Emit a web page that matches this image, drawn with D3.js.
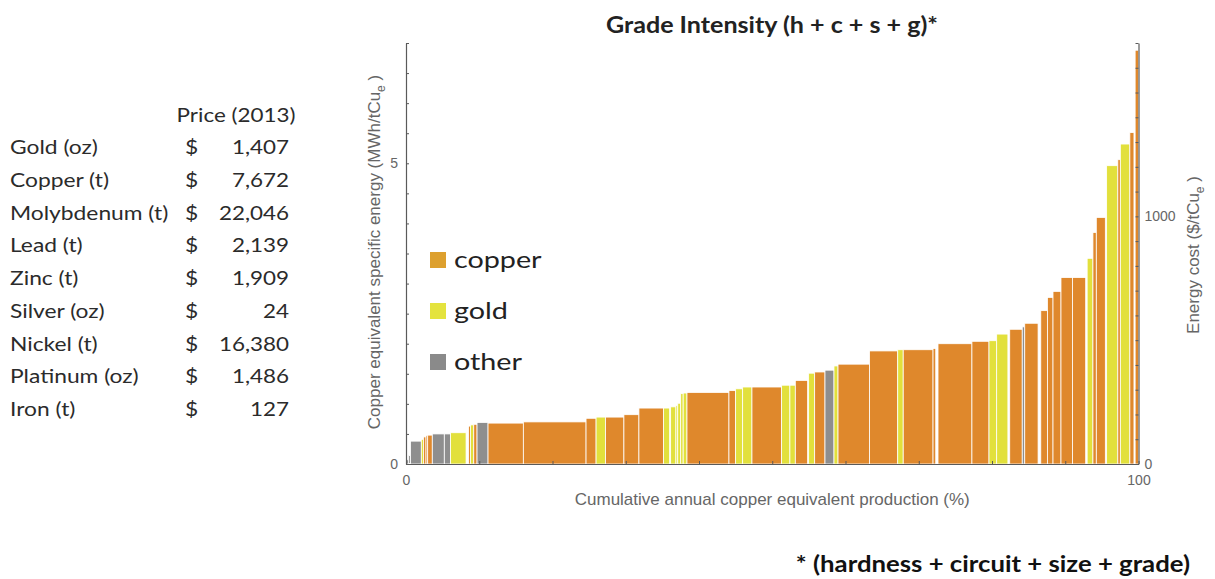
<!DOCTYPE html>
<html>
<head>
<meta charset="utf-8">
<script src="https://cdn.jsdelivr.net/npm/d3@7"></script>
<style>
  html, body { margin: 0; padding: 0; background: #fff; }
  svg { display: block; }
</style>
</head>
<body>
<svg id="chart" width="1215" height="579"></svg>
<script>
// ---------- DATA ----------
const metals = ["Gold (oz)", "Copper (t)", "Molybdenum (t)", "Lead (t)", "Zinc (t)", "Silver (oz)", "Nickel (t)", "Platinum (oz)", "Iron (t)"];
const prices2013 = [1407, 7672, 22046, 2139, 1909, 24, 16380, 1486, 127];

// production share (% of cumulative annual Cu-eq production), in curve order
const shares = [0.37,0.25,1.47,0.30,0.34,0.23,0.63,1.64,0.85,2.12,0.34,
  0.25,0.46,0.45,1.50,4.82,8.56,1.37,1.30,2.50,2.05,3.37,0.82,0.14,
  0.72,0.25,0.40,0.34,0.52,5.73,0.91,0.96,1.27,4.05,1.13,0.74,1.68,0.14,
  0.82,1.41,1.23,0.55,4.30,3.85,0.75,4.07,0.37,0.31,
  4.63,2.33,1.05,1.53,0.25,1.71,0.34,1.82,0.37,
  0.91,0.76,1.09,1.57,1.80,0.20,
  0.79,0.46,1.23,0.18,1.53,0.34,1.30,0.56,0.16,0.48];
// copper-equivalent specific energy (MWh/tCu_e)
const energy = [0.07,0.15,0.38,0.41,0.45,0.47,0.48,0.50,0.50,0.52,0,
  0.63,0.65,0.66,0.69,0.68,0.70,0.76,0.78,0.78,0.82,0.93,0.93,0,
  0.95,0.97,1.01,1.17,1.18,1.19,1.22,1.25,1.28,1.28,1.31,1.31,1.39,0,
  1.51,1.53,1.56,1.63,1.66,1.88,1.90,1.90,1.92,0,
  2.00,2.04,2.05,2.16,0,2.24,2.28,2.34,0,
  2.55,2.77,2.87,3.10,3.10,0,
  3.42,3.85,4.10,0,4.96,5.06,5.32,5.51,0,6.88];
// commodity: c = copper, g = gold, o = other, - = no mine
const commodity = ["o","o","o","g","c","c","c","o","o","g","-",
  "c","g","c","o","c","c","c","g","c","c","c","g","-",
  "g","g","g","g","g","c","c","g","g","c","g","g","c","-",
  "g","c","o","g","c","c","g","c","c","-",
  "c","c","g","g","-","c","o","c","-",
  "c","c","c","c","c","-",
  "g","c","c","-","g","c","g","c","-","c"];

const legendKeys = ["c", "g", "o"];
const legendLabels = ["copper", "gold", "other"];

const xTicks = d3.range(0, 101, 10);
const xTickLabels = [0, 100];
const yLeftTicks = d3.range(0, 7.01, 0.5);
const yLeftTickLabels = [0, 5];
const yRightTicks = d3.range(0, 1701, 100);
const yRightTickLabels = [0, 1000];

// ---------- STYLE ----------
const barColor = { c: "#DF882C", g: "#E2E03C", o: "#8E8E8E" };
const legendColor = { c: "#DDA02E", g: "#E4E33E", o: "#8A8A8A" };
const axisColor = "#5a5a5a";
const tickTextColor = "#666";
const uiFont = "'Liberation Sans', Arial, sans-serif";
const textFont = "Lato, 'Open Sans', sans-serif";

const svg = d3.select("#chart");

// text with a horizontal stretch (reference glyphs are wider than Lato)
function wideText(parent, x, y, str, size, sx, anchor, weight, fill) {
  return parent.append("text")
    .attr("transform", `translate(${x},${y}) scale(${sx},1)`)
    .attr("text-anchor", anchor || "start")
    .attr("font-family", textFont)
    .attr("font-size", size)
    .attr("font-weight", weight || 400)
    .attr("fill", fill || "#2b2b2b")
    .text(str);
}

// ---------- PRICE TABLE ----------
const table = svg.append("g");
wideText(table, 236, 122, "Price (2013)", 19, 1.18, "middle");
const rowY = d3.scalePoint().domain(metals).range([154, 416]);
metals.forEach((m, i) => {
  wideText(table, 10, rowY(m), m, 19, 1.2);
  wideText(table, 185, rowY(m), "$", 19, 1.2);
  wideText(table, 289, rowY(m), d3.format(",")(prices2013[i]), 19, 1.18, "end");
});

// ---------- CHART ----------
const x0 = 406, x1 = 1138.5, yBase = 464, yTop = 43;
const x = d3.scaleLinear().domain([0, 100]).range([x0, x1]);
const yL = d3.scaleLinear().domain([0, 7]).range([yBase, yTop]);
const yR = d3.scaleLinear().domain([0, 1700]).range([yBase, yTop]);

let cum = 0;
const bars = shares.map((s, i) => {
  const d = { start: cum, end: cum + s, value: energy[i], type: commodity[i] };
  cum += s;
  return d;
}).filter(d => d.type !== "-");

svg.append("g").selectAll("rect").data(bars).join("rect")
  .attr("x", d => x(d.start))
  .attr("width", d => Math.max(0.5, x(d.end) - x(d.start)))
  .attr("y", d => yL(d.value))
  .attr("height", d => yL(0) - yL(d.value))
  .attr("fill", d => barColor[d.type])
  .attr("stroke", "#fff")
  .attr("stroke-width", 0.8);

// axes
function styleAxis(g) {
  g.select(".domain").attr("stroke", axisColor).attr("stroke-width", 1.2);
  g.selectAll(".tick line").attr("stroke", axisColor);
  g.selectAll(".tick text").attr("fill", tickTextColor).attr("font-family", uiFont).attr("font-size", 14);
}
svg.append("g").attr("transform", `translate(0,${yBase})`)
  .call(d3.axisBottom(x).tickValues(xTicks).tickSize(-3).tickSizeOuter(0).tickPadding(11)
    .tickFormat(v => xTickLabels.includes(v) ? v : ""))
  .call(styleAxis);
svg.append("g").attr("transform", `translate(${x0},0)`)
  .call(d3.axisLeft(yL).tickValues(yLeftTicks).tickSize(-3).tickSizeOuter(0).tickPadding(8)
    .tickFormat(v => yLeftTickLabels.includes(v) ? v : ""))
  .call(styleAxis);
svg.append("g").attr("transform", `translate(${x1},0)`)
  .call(d3.axisRight(yR).tickValues(yRightTicks).tickSize(-3).tickSizeOuter(0).tickPadding(6)
    .tickFormat(v => yRightTickLabels.includes(v) ? v : ""))
  .call(styleAxis);

// axis titles
svg.append("text").attr("x", (x0 + x1) / 2).attr("y", 505).attr("text-anchor", "middle")
  .attr("font-family", uiFont).attr("font-size", 17).attr("fill", tickTextColor)
  .text("Cumulative annual copper equivalent production (%)");

const yl = svg.append("text").attr("transform", "translate(380,252) rotate(-90)").attr("text-anchor", "middle")
  .attr("font-family", uiFont).attr("font-size", 17).attr("fill", tickTextColor);
yl.append("tspan").text("Copper equivalent specific energy (MWh/tCu");
yl.append("tspan").attr("dy", 5).attr("font-size", 12).text("e");
yl.append("tspan").attr("dy", -5).text(" )");

const yr = svg.append("text").attr("transform", "translate(1199,255) rotate(-90)").attr("text-anchor", "middle")
  .attr("font-family", uiFont).attr("font-size", 17).attr("fill", tickTextColor);
yr.append("tspan").text("Energy cost ($/tCu");
yr.append("tspan").attr("dy", 5).attr("font-size", 12).text("e");
yr.append("tspan").attr("dy", -5).text(" )");

// title and footnote
wideText(svg, 772, 33, "Grade Intensity (h + c + s + g)*", 22, 1.14, "middle", 700, "#222");
wideText(svg, 1190, 572, "* (hardness + circuit + size + grade)", 22, 1.17, "end", 700, "#111");

// legend
const legY = d3.scalePoint().domain(legendKeys).range([260, 362]);
const leg = svg.append("g");
legendKeys.forEach((k, i) => {
  leg.append("rect").attr("x", 430).attr("y", legY(k) - 8).attr("width", 16).attr("height", 16).attr("fill", legendColor[k]);
  wideText(leg, 454, legY(k) + 8, legendLabels[i], 23, 1.25, "start", 400, "#222");
});
</script>
</body>
</html>
